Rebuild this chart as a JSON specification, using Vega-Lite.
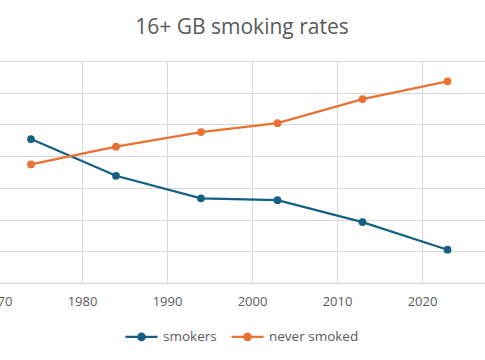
{
  "$schema": "https://vega.github.io/schema/vega-lite/v6.json",
  "autosize": {"type": "none"},
  "width": 510,
  "height": 222,
  "padding": {"left": -3, "top": 61, "right": -22, "bottom": 77},
  "background": "white",
  "title": {"text": "16+ GB smoking rates", "fontSize": 21, "font": "Open Sans", "fontWeight": "normal", "color": "#595959", "dx": -10, "offset": 23},
  "data": {"values": [
    {"year": 1974, "series": "smokers", "rate": 45.4},
    {"year": 1984, "series": "smokers", "rate": 33.8},
    {"year": 1994, "series": "smokers", "rate": 26.7},
    {"year": 2003, "series": "smokers", "rate": 26.1},
    {"year": 2013, "series": "smokers", "rate": 19.2},
    {"year": 2023, "series": "smokers", "rate": 10.5},
    {"year": 1974, "series": "never smoked", "rate": 37.4},
    {"year": 1984, "series": "never smoked", "rate": 43.0},
    {"year": 1994, "series": "never smoked", "rate": 47.6},
    {"year": 2003, "series": "never smoked", "rate": 50.4},
    {"year": 2013, "series": "never smoked", "rate": 58.0},
    {"year": 2023, "series": "never smoked", "rate": 63.6}
  ]},
  "config": {"view": {"stroke": null}, "font": "Open Sans"},
  "mark": {"type": "line", "strokeWidth": 2.25, "point": {"size": 60, "filled": true, "opacity": 1}},
  "encoding": {
    "x": {"field": "year", "type": "quantitative", "scale": {"domain": [1970, 2030], "nice": false, "zero": false},
      "axis": {"title": null, "values": [1970, 1980, 1990, 2000, 2010, 2020], "format": "d", "grid": true, "gridColor": "#D9D9D9", "gridWidth": 1, "domainColor": "#D9D9D9", "domainWidth": 1.5, "ticks": false, "labelPadding": 12, "labelFontSize": 13, "labelColor": "#595959", "labelFlush": false}},
    "y": {"field": "rate", "type": "quantitative", "scale": {"domain": [0, 70], "nice": false},
      "axis": {"title": null, "values": [0, 10, 20, 30, 40, 50, 60, 70], "grid": true, "gridColor": "#D9D9D9", "gridWidth": 1, "domain": false, "ticks": false, "labels": false}},
    "color": {"field": "series", "type": "nominal", "sort": ["smokers", "never smoked"],
      "scale": {"domain": ["smokers", "never smoked"], "range": ["#156082", "#E97132"]},
      "legend": {"title": null, "orient": "none", "direction": "horizontal", "legendX": 127, "legendY": 258,
        "symbolType": "M-1,0L1,0M-0.2,0A0.2,0.2,0,1,0,0.2,0A0.2,0.2,0,1,0,-0.2,0Z",
        "symbolSize": 1024, "symbolStrokeWidth": 2.25, "labelFontSize": 13.5, "labelColor": "#595959", "labelOffset": 4, "columnPadding": 10,
        "encode": {"symbols": {"update": {"fill": {"scale": "color", "field": "value"}, "stroke": {"scale": "color", "field": "value"}, "opacity": {"value": 1}}}}}}
  }
}
